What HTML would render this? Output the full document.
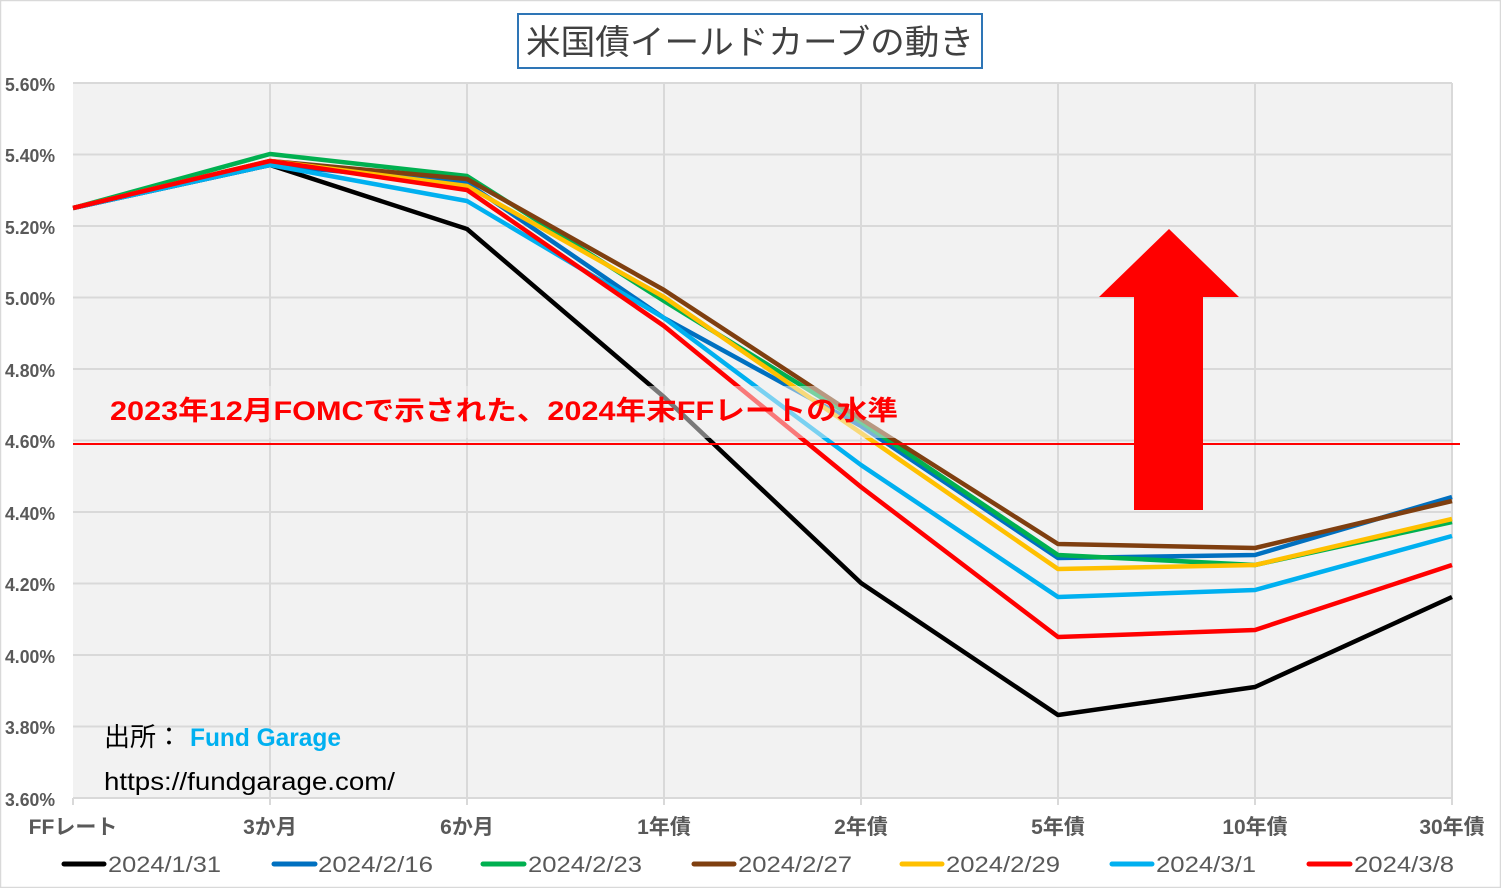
<!DOCTYPE html>
<html><head><meta charset="utf-8"><style>
html,body{margin:0;padding:0;background:#fff;}
svg{display:block;font-family:"Liberation Sans","Noto Sans CJK JP",sans-serif;}
</style></head><body>
<svg width="1501" height="888" viewBox="0 0 1501 888" xmlns="http://www.w3.org/2000/svg">
<rect x="0.5" y="0.5" width="1500" height="887" fill="#fff" stroke="#d9d9d9" stroke-width="1.5"/>
<rect x="73" y="83" width="1379" height="715" fill="#f2f2f2"/>
<g stroke="#d9d9d9" stroke-width="2">
<line x1="73" y1="83" x2="1452" y2="83"/><line x1="73" y1="154.5" x2="1452" y2="154.5"/>
<line x1="73" y1="226" x2="1452" y2="226"/><line x1="73" y1="297.5" x2="1452" y2="297.5"/>
<line x1="73" y1="369" x2="1452" y2="369"/><line x1="73" y1="440.5" x2="1452" y2="440.5"/>
<line x1="73" y1="512" x2="1452" y2="512"/><line x1="73" y1="583.5" x2="1452" y2="583.5"/>
<line x1="73" y1="655" x2="1452" y2="655"/><line x1="73" y1="726.5" x2="1452" y2="726.5"/>
<line x1="73" y1="798" x2="1452" y2="798"/>
<line x1="270" y1="83" x2="270" y2="805"/><line x1="467" y1="83" x2="467" y2="805"/>
<line x1="664" y1="83" x2="664" y2="805"/><line x1="861" y1="83" x2="861" y2="805"/>
<line x1="1058" y1="83" x2="1058" y2="805"/><line x1="1255" y1="83" x2="1255" y2="805"/>
<line x1="1452" y1="83" x2="1452" y2="805"/><line x1="73" y1="798" x2="73" y2="805"/>
</g>
<g fill="none" stroke-width="4.5" stroke-linejoin="round">
<polyline stroke="#000" points="73,208 270,165 467,229 664,397 861,583 1058,715 1255,687 1452,597"/>
<polyline stroke="#0070c0" points="73,208 270,165 467,183 664,318 861,426 1058,558 1255,555 1452,497"/>
<polyline stroke="#00b050" points="73,208 270,154 467,176 664,301 861,422 1058,555 1255,565 1452,522"/>
<polyline stroke="#7f3f10" points="73,208 270,161 467,179 664,290 861,419 1058,544 1255,548 1452,501"/>
<polyline stroke="#ffc000" points="73,208 270,161 467,186 664,297 861,433 1058,569 1255,565 1452,519"/>
<polyline stroke="#00b0f0" points="73,208 270,165 467,201 664,318 861,465 1058,597 1255,590 1452,536"/>
<polyline stroke="#ff0000" points="73,208 270,161 467,190 664,326 861,487 1058,637 1255,630 1452,565"/>
</g>
<rect x="100" y="386" width="805" height="52" fill="#f2f2f2" fill-opacity="0.5"/>
<line x1="73" y1="444" x2="1460" y2="444" stroke="#ff0000" stroke-width="2"/>
<text x="110" y="420" font-size="27" font-weight="bold" fill="#ff0000" textLength="788" lengthAdjust="spacingAndGlyphs">2023年12月FOMCで示された、2024年末FFレートの水準</text>
<polygon fill="#ff0000" points="1134,510 1203,510 1203,297 1239,297 1169,229 1099,297 1134,297"/>
<rect x="518" y="14" width="464" height="54" fill="#fff" stroke="#2e75b6" stroke-width="2"/>
<text x="750" y="54" font-size="34" fill="#404040" text-anchor="middle" textLength="448" lengthAdjust="spacingAndGlyphs">米国債イールドカーブの動き</text>
<g font-size="18" font-weight="bold" fill="#595959">
<text x="5" y="91" textLength="50" lengthAdjust="spacingAndGlyphs">5.60%</text>
<text x="5" y="162" textLength="50" lengthAdjust="spacingAndGlyphs">5.40%</text>
<text x="5" y="234" textLength="50" lengthAdjust="spacingAndGlyphs">5.20%</text>
<text x="5" y="305" textLength="50" lengthAdjust="spacingAndGlyphs">5.00%</text>
<text x="5" y="377" textLength="50" lengthAdjust="spacingAndGlyphs">4.80%</text>
<text x="5" y="448" textLength="50" lengthAdjust="spacingAndGlyphs">4.60%</text>
<text x="5" y="520" textLength="50" lengthAdjust="spacingAndGlyphs">4.40%</text>
<text x="5" y="591" textLength="50" lengthAdjust="spacingAndGlyphs">4.20%</text>
<text x="5" y="663" textLength="50" lengthAdjust="spacingAndGlyphs">4.00%</text>
<text x="5" y="734" textLength="50" lengthAdjust="spacingAndGlyphs">3.80%</text>
<text x="5" y="806" textLength="50" lengthAdjust="spacingAndGlyphs">3.60%</text>
</g>
<g font-size="21" font-weight="bold" fill="#595959" text-anchor="middle">
<text x="73" y="834">FFレート</text><text x="270" y="834">3か月</text><text x="467" y="834">6か月</text>
<text x="664" y="834">1年債</text><text x="861" y="834">2年債</text><text x="1058" y="834">5年債</text>
<text x="1255" y="834">10年債</text><text x="1452" y="834">30年債</text>
</g>
<text x="104" y="746" font-size="26" fill="#000">出所：</text>
<text x="190" y="746" font-size="25" fill="#00b0f0" font-weight="bold" textLength="151" lengthAdjust="spacingAndGlyphs">Fund Garage</text>
<text x="104" y="790" font-size="25" fill="#000" textLength="291" lengthAdjust="spacingAndGlyphs">https://fundgarage.com/</text>
<g stroke-width="5" stroke-linecap="round">
<line x1="64" y1="864" x2="104" y2="864" stroke="#000"/>
<line x1="274" y1="864" x2="315" y2="864" stroke="#0070c0"/>
<line x1="483" y1="864" x2="524" y2="864" stroke="#00b050"/>
<line x1="694" y1="864" x2="734" y2="864" stroke="#7f3f10"/>
<line x1="902" y1="864" x2="942" y2="864" stroke="#ffc000"/>
<line x1="1112" y1="864" x2="1152" y2="864" stroke="#00b0f0"/>
<line x1="1309" y1="864" x2="1350" y2="864" stroke="#ff0000"/>
</g>
<g font-size="22" fill="#595959">
<text x="108" y="872" textLength="113" lengthAdjust="spacingAndGlyphs">2024/1/31</text>
<text x="318" y="872" textLength="115" lengthAdjust="spacingAndGlyphs">2024/2/16</text>
<text x="528" y="872" textLength="114" lengthAdjust="spacingAndGlyphs">2024/2/23</text>
<text x="738" y="872" textLength="114" lengthAdjust="spacingAndGlyphs">2024/2/27</text>
<text x="946" y="872" textLength="114" lengthAdjust="spacingAndGlyphs">2024/2/29</text>
<text x="1156" y="872" textLength="100" lengthAdjust="spacingAndGlyphs">2024/3/1</text>
<text x="1354" y="872" textLength="100" lengthAdjust="spacingAndGlyphs">2024/3/8</text>
</g>
</svg>
</body></html>
